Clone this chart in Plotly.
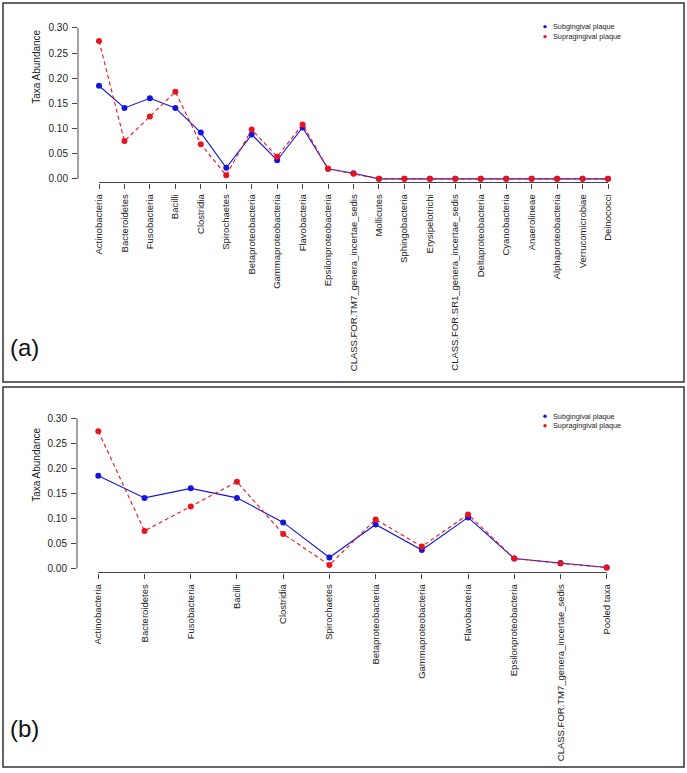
import plotly.graph_objects as go

W, H = 687, 773

cats_a = ["Actinobacteria", "Bacteroidetes", "Fusobacteria", "Bacilli", "Clostridia",
          "Spirochaetes", "Betaproteobacteria", "Gammaproteobacteria", "Flavobacteria",
          "Epsilonproteobacteria", "CLASS.FOR.TM7_genera_incertae_sedis", "Mollicutes",
          "Sphingobacteria", "Erysipelotrichi", "CLASS.FOR.SR1_genera_incertae_sedis",
          "Deltaproteobacteria", "Cyanobacteria", "Anaerolineae", "Alphaproteobacteria",
          "Verrucomicrobiae", "Deinococci"]
sub_a = [0.185, 0.141, 0.160, 0.141, 0.092, 0.022, 0.088, 0.037, 0.102, 0.020, 0.011,
         0, 0, 0, 0, 0, 0, 0, 0, 0, 0]
sup_a = [0.274, 0.075, 0.124, 0.173, 0.069, 0.007, 0.098, 0.044, 0.108, 0.020, 0.010,
         0, 0, 0, 0, 0, 0, 0, 0, 0, 0]

cats_b = ["Actinobacteria", "Bacteroidetes", "Fusobacteria", "Bacilli", "Clostridia",
          "Spirochaetes", "Betaproteobacteria", "Gammaproteobacteria", "Flavobacteria",
          "Epsilonproteobacteria", "CLASS.FOR.TM7_genera_incertae_sedis", "Pooled taxa"]
sub_b = [0.185, 0.141, 0.160, 0.141, 0.092, 0.022, 0.088, 0.037, 0.102, 0.020, 0.011, 0.002]
sup_b = [0.274, 0.075, 0.124, 0.173, 0.069, 0.007, 0.098, 0.044, 0.108, 0.020, 0.010, 0.002]

y_ticks = [0.00, 0.05, 0.10, 0.15, 0.20, 0.25, 0.30]
series_names = ["Subgingival plaque", "Supragingival plaque"]

BLUE = "#1414dc"
RED = "#e8141c"
AX = "#444444"
FONT = "Arial, Liberation Sans, sans-serif"


def px(x):
    return x / W


def py(y):
    return 1 - y / H


fig = go.Figure()

for (xa, ya, cats, sub, sup) in [("x", "y", cats_a, sub_a, sup_a), ("x2", "y2", cats_b, sub_b, sup_b)]:
    fig.add_trace(go.Scatter(x=cats, y=sub, xaxis=xa, yaxis=ya, mode="lines+markers",
                             line=dict(color=BLUE, width=1.1),
                             marker=dict(color=BLUE, size=6), name=series_names[0], showlegend=False))
    fig.add_trace(go.Scatter(x=cats, y=sup, xaxis=xa, yaxis=ya, mode="lines+markers",
                             line=dict(color=RED, width=1.1, dash="4px,3px"),
                             marker=dict(color=RED, size=6), name=series_names[1], showlegend=False))

# Panel a geometry (pixels)
ka = (179.3 - 28.0) / 0.30
a_top, a_bot = 20.0, 183.0
a_r0 = (179.3 - a_bot) / ka
a_r1 = (179.3 - a_top) / ka
sp_a = (608.0 - 99.0) / 20
a_left, a_right = 78.0, 640.0
ax_r0 = (a_left - 99.0) / sp_a
ax_r1 = (a_right - 99.0) / sp_a

# Panel b geometry (pixels)
kb = (570.0 - 419.3) / 0.30
b_top, b_bot = 410.0, 574.0
b_r0 = (570.0 - b_bot) / kb
b_r1 = (570.0 - b_top) / kb
sp_b = (606.7 - 98.3) / 11
b_left, b_right = 77.0, 640.0
bx_r0 = (b_left - 98.3) / sp_b
bx_r1 = (b_right - 98.3) / sp_b

xcommon = dict(type="category", showgrid=False, zeroline=False, showline=False,
               ticks="outside", ticklen=5, tickwidth=1, tickcolor=AX, tickangle=-90,
               ticklabelstandoff=2,
               tickfont=dict(family=FONT, size=9.5, color="#222222"))
ycommon = dict(showgrid=False, zeroline=False, showline=False, ticks="outside", ticklen=5,
               tickwidth=1, tickcolor=AX, tickvals=y_ticks,
               ticktext=[f"{v:.2f}" for v in y_ticks], ticklabelstandoff=2,
               tickfont=dict(family=FONT, size=10, color="#222222"))

fig.update_layout(
    width=W, height=H, margin=dict(l=0, r=0, t=0, b=0),
    paper_bgcolor="white", plot_bgcolor="rgba(0,0,0,0)", showlegend=False,
    xaxis=dict(**xcommon, domain=[px(a_left), px(a_right)], range=[ax_r0, ax_r1],
               anchor="y", categoryorder="array", categoryarray=cats_a),
    yaxis=dict(**ycommon, domain=[py(a_bot), py(a_top)], range=[a_r0, a_r1], anchor="x"),
    xaxis2=dict(**xcommon, domain=[px(b_left), px(b_right)], range=[bx_r0, bx_r1],
                anchor="y2", categoryorder="array", categoryarray=cats_b),
    yaxis2=dict(**ycommon, domain=[py(b_bot), py(b_top)], range=[b_r0, b_r1], anchor="x2"),
)

shapes = []
# Outer panel boxes
shapes.append(dict(type="rect", xref="paper", yref="paper", x0=px(3), x1=px(684), y0=py(3), y1=py(383),
                   line=dict(color="#333333", width=1.5)))
shapes.append(dict(type="rect", xref="paper", yref="paper", x0=px(3), x1=px(684), y0=py(388), y1=py(769),
                   line=dict(color="#333333", width=1.5)))
# Axis lines (R style: spanning ticks only)
shapes.append(dict(type="line", xref="x", yref="paper", x0=0, x1=len(cats_a) - 1,
                   y0=py(a_bot), y1=py(a_bot), line=dict(color=AX, width=1)))
shapes.append(dict(type="line", xref="paper", yref="y", x0=px(a_left), x1=px(a_left),
                   y0=y_ticks[0], y1=y_ticks[-1], line=dict(color=AX, width=1)))
shapes.append(dict(type="line", xref="x2", yref="paper", x0=0, x1=len(cats_b) - 1,
                   y0=py(b_bot), y1=py(b_bot), line=dict(color=AX, width=1)))
shapes.append(dict(type="line", xref="paper", yref="y2", x0=px(b_left), x1=px(b_left),
                   y0=y_ticks[0], y1=y_ticks[-1], line=dict(color=AX, width=1)))

annotations = []
# Legends
for (ly1, ly2) in [(26.7, 36.7), (417.3, 426.9)]:
    for ly, col, name in [(ly1, BLUE, series_names[0]), (ly2, RED, series_names[1])]:
        r = 1.7
        shapes.append(dict(type="circle", xref="paper", yref="paper",
                           x0=px(545 - r), x1=px(545 + r), y0=py(ly + r), y1=py(ly - r),
                           fillcolor=col, line=dict(width=0)))
        annotations.append(dict(text=name, xref="paper", yref="paper", x=px(551), y=py(ly),
                                xanchor="left", yanchor="middle", showarrow=False,
                                font=dict(family=FONT, size=7.3, color="#222222")))

# Y axis titles
for ty in [67, 466]:
    annotations.append(dict(text="Taxa Abundance", xref="paper", yref="paper", x=px(37), y=py(ty),
                            xanchor="center", yanchor="middle", textangle=-90, showarrow=False,
                            font=dict(family=FONT, size=10, color="#222222")))

# Panel labels
annotations.append(dict(text="(a)", xref="paper", yref="paper", x=px(8), y=py(348), xanchor="left",
                        yanchor="middle", showarrow=False, font=dict(family=FONT, size=24, color="#111111")))
annotations.append(dict(text="(b)", xref="paper", yref="paper", x=px(8), y=py(730), xanchor="left",
                        yanchor="middle", showarrow=False, font=dict(family=FONT, size=24, color="#111111")))

fig.update_layout(shapes=shapes, annotations=annotations)

fig.write_html("out.html", config={"displayModeBar": False},
               post_script="document.body.style.margin='0';document.body.style.overflow='hidden';")
